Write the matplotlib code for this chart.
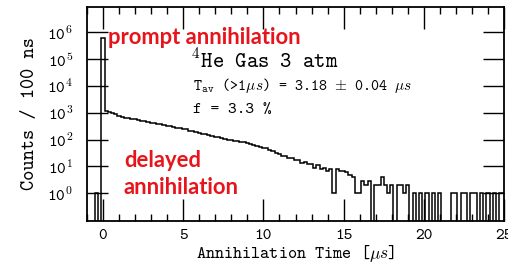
import numpy as np
import matplotlib
matplotlib.use("Agg")
import matplotlib.pyplot as plt
from matplotlib.ticker import MultipleLocator, NullLocator

# ---- data: counts per bin (bin width 0.2 us), bin centers -1.0 ... 25.0 ----
bin_start = -1.1
bin_width = 0.2
prompt_counts = [0, 0, 0, 1, 0, 600000]          # centers -1.0 ... 0.0
delayed_counts = [                               # centers 0.2 ... 17.8
    1200, 1050, 958, 872, 779, 705, 662, 628, 600, 566,
    536, 512, 481, 459, 428, 409, 386, 374, 349, 333,
    314, 304, 283, 271, 252, 240, 219, 206, 188, 179,
    165, 157, 143, 137, 124, 121, 113, 108, 100, 97,
    91, 90, 82, 80, 72, 71, 62, 60, 54, 50,
    47, 40, 37, 31, 30, 25, 24, 20, 21, 18,
    18, 14, 15, 12, 12, 9, 11, 8, 9, 7,
    8, 1, 8, 7, 7, 6, 5, 4, 1, 1,
    3, 2, 3, 0, 2, 2, 4, 2, 1,
]
tail_counts = [                                  # centers 18.0 ... 25.0
    2, 0, 2, 2, 1, 2, 0, 1, 0, 1,
    0, 1, 0, 1, 0, 1, 0, 0, 0, 1,
    1, 0, 1, 1, 0, 1, 1, 0, 1, 0,
    1, 0, 1, 0, 1, 1,
]
x_ticks = [0, 5, 10, 15, 20, 25]
y_exponents = [0, 1, 2, 3, 4, 5, 6]
x_label = "Annihilation Time [$\\mu s$]"
y_label = "Counts / 100 ns"

counts = np.array(prompt_counts + delayed_counts + tail_counts, dtype=float)
edges = bin_start + bin_width * np.arange(len(counts) + 1)

plt.rcParams['mathtext.fontset'] = 'cm'
plt.rcParams['font.family'] = 'cmtt10'
plt.rcParams['axes.unicode_minus'] = False

W, H = 508, 265
fig = plt.figure(figsize=(W / 100, H / 100), dpi=100)
ax = fig.add_axes([87 / W, 1 - 221 / H, (504 - 87) / W, (221 - 7) / H])

plot_vals = np.where(counts > 0, counts, 1e-4)
ax.stairs(plot_vals, edges, baseline=None, color='black', lw=1.1)

ax.set_yscale('log')
ax.set_xlim(-1, 25)
ax.set_ylim(10 ** -1.03, 10 ** 6.94)

ax.set_yticks([10.0 ** k for k in y_exponents],
              labels=["10$^{\\mathtt{%d}}$" % k for k in y_exponents])
ax.yaxis.set_minor_locator(NullLocator())
ax.set_xticks(x_ticks, labels=[str(v) for v in x_ticks])
ax.xaxis.set_minor_locator(MultipleLocator(1))

ax.tick_params(axis='both', which='major', direction='in', top=True, right=True,
               length=16, width=1.0, labelsize=12, color='black')
ax.tick_params(axis='x', which='major', pad=6)
ax.tick_params(axis='y', which='major', length=15, pad=10)
ax.tick_params(axis='x', which='minor', direction='in', top=True, bottom=True,
               length=5, width=1.0)
for s in ax.spines.values():
    s.set_linewidth(1.3)

ax.set_xlabel(x_label, fontsize=12.5, labelpad=0)
ax.set_ylabel(y_label, fontsize=14, labelpad=6)

red = '#e8141c'
fig.text(108 / W, 1 - 44 / H, "prompt annihilation", color=red, fontsize=15.8,
         fontweight='bold', family='Lato', va='baseline', ha='left')
fig.text(124 / W, 1 - 167 / H, "delayed", color=red, fontsize=15.8,
         fontweight='bold', family='Lato', va='baseline', ha='left')
fig.text(124 / W, 1 - 193.5 / H, "annihilation", color=red, fontsize=15.8,
         fontweight='bold', family='Lato', va='baseline', ha='left')

fig.text(191 / W, 1 - 68 / H, "$^{\\mathtt{4}}$He Gas 3 atm", fontsize=15.5,
         va='baseline', ha='left')
fig.text(193 / W, 1 - 90 / H,
         "T$_{\\mathtt{av}}$ (>1$\\mu s$) = 3.18 $\\pm$ 0.04 $\\mu s$",
         fontsize=11, va='baseline', ha='left')
fig.text(193 / W, 1 - 113 / H, "f = 3.3 %", fontsize=12, va='baseline', ha='left')

fig.savefig("out.png", dpi=100, facecolor='white')
